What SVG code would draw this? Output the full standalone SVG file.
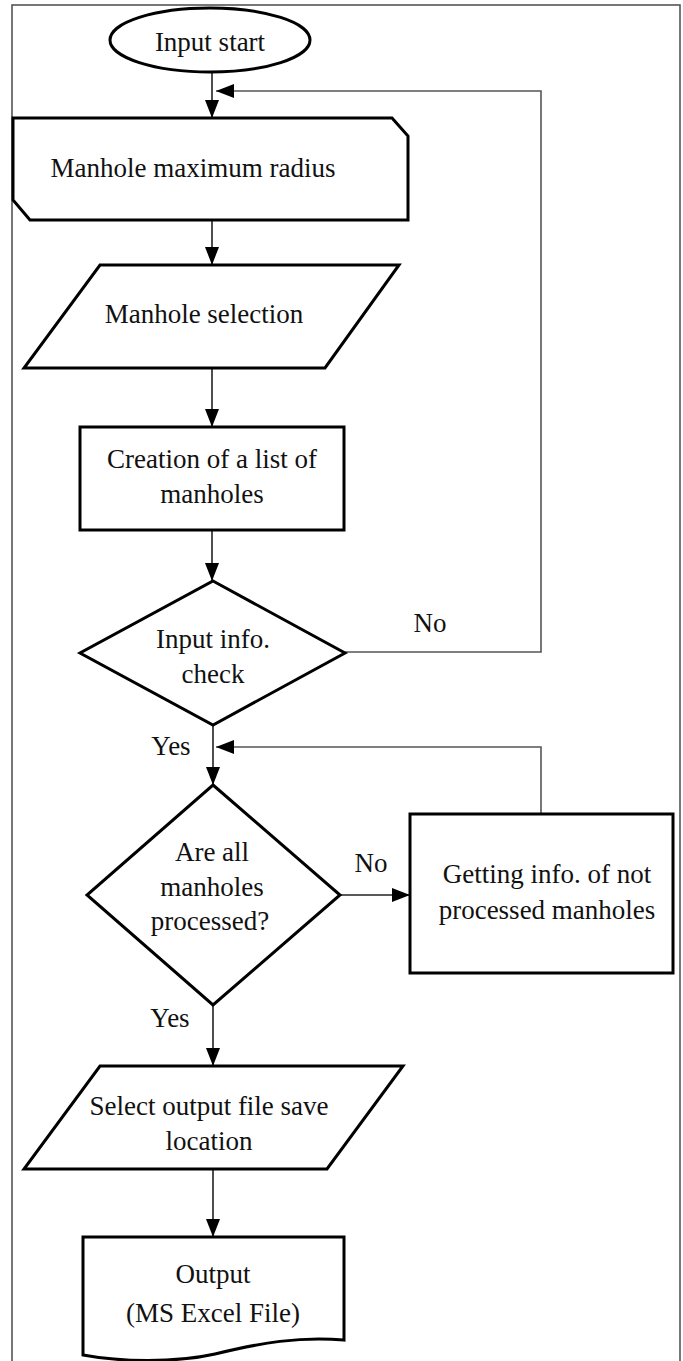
<svg xmlns="http://www.w3.org/2000/svg" width="683" height="1361" viewBox="0 0 683 1361">
<style>
.shape{fill:#fff;stroke:#000;stroke-width:3;stroke-linejoin:miter}
.conn{fill:none;stroke:#222;stroke-width:1.6}
.loop{fill:none;stroke:#555;stroke-width:1.6}
.t{font-family:"Liberation Serif","Times New Roman",serif;font-size:27px;fill:#111;text-anchor:middle}
</style>
<defs>
<marker id="ah" markerUnits="userSpaceOnUse" markerWidth="18" markerHeight="14" refX="18" refY="7" orient="auto">
<path d="M0,0 L18,7 L0,14 z" fill="#000"/>
</marker>
</defs>
<rect x="0" y="0" width="683" height="1361" fill="#fff"/>
<rect id="frame" x="12" y="5" width="668" height="1370" fill="none" stroke="#555" stroke-width="1.6"/>

<g id="connectors">
<path class="conn" d="M212,72 V118" marker-end="url(#ah)"/>
<path class="loop" d="M345,652 H541 V91 H216" marker-end="url(#ah)"/>
<path class="conn" d="M212,220 V265" marker-end="url(#ah)"/>
<path class="conn" d="M212,368 V427" marker-end="url(#ah)"/>
<path class="conn" d="M212,530 V581" marker-end="url(#ah)"/>
<path class="conn" d="M213,725 V785" marker-end="url(#ah)"/>
<path class="conn" d="M340,895 H410" marker-end="url(#ah)"/>
<path class="loop" d="M541,814 V747 H216" marker-end="url(#ah)"/>
<path class="conn" d="M213,1005 V1066" marker-end="url(#ah)"/>
<path class="conn" d="M213,1169 V1237" marker-end="url(#ah)"/>
<text class="t" x="430" y="632">No</text>
<text class="t" x="171" y="755">Yes</text>
<text class="t" x="371" y="872">No</text>
<text class="t" x="170" y="1027">Yes</text>
</g>

<g id="start">
<ellipse class="shape" cx="210" cy="40" rx="100" ry="32" stroke-width="2.4"/>
<text class="t" x="210" y="51">Input start</text>
</g>

<g id="max-radius">
<path class="shape" d="M13,118 H392 L408,136 V220 H30 L13,200 Z"/>
<text class="t" x="193" y="177">Manhole maximum  radius</text>
</g>

<g id="selection">
<path class="shape" d="M100,265 H399 L325,368 H24 Z"/>
<text class="t" x="204" y="323">Manhole  selection</text>
</g>

<g id="list">
<rect class="shape" x="80" y="427" width="264" height="103"/>
<text class="t" x="212" y="468">Creation of a list of</text>
<text class="t" x="212" y="503">manholes</text>
</g>

<g id="check">
<path class="shape" d="M213,581 L345,653 L213,725 L80,653 Z"/>
<text class="t" x="213" y="648">Input info.</text>
<text class="t" x="213" y="683">check</text>
</g>

<g id="processed">
<path class="shape" d="M213,785 L340,895 L213,1005 L87,895 Z"/>
<text class="t" x="212" y="861">Are all</text>
<text class="t" x="212" y="896">manholes</text>
<text class="t" x="210" y="930">processed?</text>
</g>

<g id="getting">
<rect class="shape" x="410" y="814" width="263" height="159"/>
<text class="t" x="547" y="883">Getting  info.  of not</text>
<text class="t" x="547" y="919">processed manholes</text>
</g>

<g id="save">
<path class="shape" d="M100,1066 H403 L327,1169 H24 Z"/>
<text class="t" x="209" y="1115">Select  output file  save</text>
<text class="t" x="209" y="1150">location</text>
</g>

<g id="output">
<path class="shape" d="M83,1237 H344 V1340 C300,1336 260,1343 215,1354 C175,1363 120,1362 83,1355 Z"/>
<text class="t" x="213" y="1283">Output</text>
<text class="t" x="213" y="1322">(MS Excel File)</text>
</g>
</svg>
